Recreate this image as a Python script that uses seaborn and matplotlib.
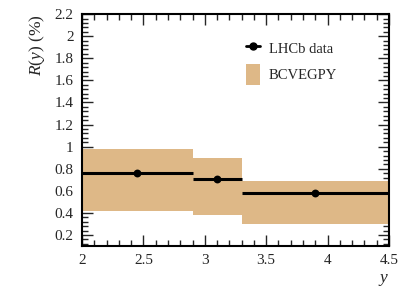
import numpy as np
import matplotlib
matplotlib.use("Agg")
import matplotlib.pyplot as plt
import seaborn as sns
from matplotlib.lines import Line2D
from matplotlib.patches import Patch
from matplotlib.ticker import MultipleLocator

# bins in rapidity y
bin_lo = [2.0, 2.9, 3.3]
bin_hi = [2.9, 3.3, 4.5]
# LHCb data points
y_centre = [2.45, 3.1, 3.9]
r_value = [0.758, 0.705, 0.584]
# BCVEGPY prediction band
band_low = [0.415, 0.381, 0.297]
band_high = [0.976, 0.894, 0.689]

band_color = "#DEB887"

sns.set_style("ticks")
plt.rcParams["font.family"] = ["Liberation Serif", "DejaVu Serif"]
plt.rcParams["mathtext.fontset"] = "custom"
plt.rcParams["mathtext.rm"] = "Liberation Serif"
plt.rcParams["mathtext.it"] = "Liberation Serif:italic"

fig = plt.figure(figsize=(4.09, 2.94), dpi=100)
ax = fig.add_axes([0.2005, 0.163, 0.7505, 0.789])

# prediction band
lo = np.array(bin_lo)
hi = np.array(bin_hi)
ax.bar(lo, np.array(band_high) - np.array(band_low), width=hi - lo,
       bottom=band_low, align="edge", color=band_color, edgecolor="none",
       zorder=1)

# data: horizontal bin widths + markers
ax.hlines(r_value, bin_lo, bin_hi, color="black", linewidth=2.2, zorder=3)
sns.scatterplot(x=y_centre, y=r_value, ax=ax, color="black", s=32,
                edgecolor="black", linewidth=0, zorder=4)

ax.set_xlim(2, 4.5)
ax.set_ylim(0.1, 2.2)
ax.xaxis.set_minor_locator(MultipleLocator(0.1))
ax.yaxis.set_minor_locator(MultipleLocator(0.04))
ax.set_xticks([2, 2.5, 3, 3.5, 4, 4.5])
ax.set_xticklabels(["2", "2.5", "3", "3.5", "4", "4.5"])
ax.set_yticks([0.2, 0.4, 0.6, 0.8, 1, 1.2, 1.4, 1.6, 1.8, 2, 2.2])
ax.set_yticklabels(["0.2", "0.4", "0.6", "0.8", "1", "1.2", "1.4", "1.6",
                    "1.8", "2", "2.2"])

ax.tick_params(which="both", direction="in", top=True, right=True,
               labelsize=11, width=1, pad=6)
ax.tick_params(which="major", length=8)
ax.tick_params(which="minor", length=4)
for spine in ax.spines.values():
    spine.set_linewidth(1.5)
    spine.set_color("black")

ax.set_ylabel(r"$R(y)$ (%)", fontsize=12.5, loc="top")
ax.yaxis.set_label_coords(-0.115, 1.0)
ax.set_xlabel(r"$y$", fontsize=12.5, loc="right")
ax.xaxis.set_label_coords(1.0, -0.11)

handles = [
    Line2D([0], [0], color="black", linewidth=2, marker="o", markersize=5),
    Patch(facecolor=band_color, edgecolor="none"),
]
ax.legend(handles, ["LHCb data", "BCVEGPY"], loc="upper right",
          bbox_to_anchor=(0.875, 0.952), frameon=False, fontsize=10.5,
          handlelength=1.0, handleheight=1.8, labelspacing=0.35,
          handletextpad=0.6)

fig.savefig("out.png", dpi=100)
